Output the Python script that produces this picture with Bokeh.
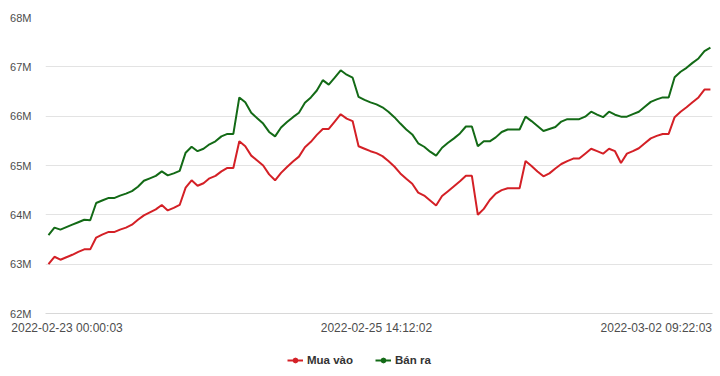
from bokeh.plotting import figure
from bokeh.layouts import column
from bokeh.models import (Range1d, FixedTicker, PrintfTickFormatter, Legend, LegendItem)
from bokeh.embed import file_html
from bokeh.resources import INLINE

# --- data (values in millions VND) ---
series_names = ["Mua vào", "Bán ra"]
buy = [63.00, 63.15, 63.09, 63.14, 63.19, 63.25, 63.30, 63.30, 63.54, 63.60,
       63.65, 63.65, 63.70, 63.74, 63.80, 63.90, 63.99, 64.05, 64.11, 64.20,
       64.09, 64.14, 64.20, 64.55, 64.70, 64.59, 64.64, 64.74, 64.79, 64.88,
       64.95, 64.95, 65.49, 65.39, 65.20, 65.10, 65.00, 64.82, 64.70, 64.85,
       64.97, 65.08, 65.18, 65.37, 65.48, 65.62, 65.74, 65.74, 65.89, 66.04,
       65.95, 65.90, 65.39, 65.34, 65.29, 65.25, 65.19, 65.09, 64.98, 64.84,
       64.73, 64.63, 64.45, 64.39, 64.29, 64.19, 64.38, 64.48, 64.58, 64.68,
       64.79, 64.79, 64.00, 64.12, 64.30, 64.43, 64.50, 64.54, 64.54, 64.54,
       65.09, 64.99, 64.88, 64.78, 64.84, 64.94, 65.03, 65.09, 65.14, 65.14,
       65.24, 65.34, 65.29, 65.24, 65.34, 65.29, 65.05, 65.24, 65.29, 65.35,
       65.45, 65.55, 65.60, 65.64, 65.64, 65.98, 66.09, 66.18, 66.28, 66.38,
       66.54, 66.54]
sell = [63.59, 63.74, 63.70, 63.75, 63.80, 63.85, 63.90, 63.89, 64.24, 64.29,
        64.34, 64.34, 64.39, 64.43, 64.48, 64.57, 64.69, 64.74, 64.79, 64.88,
        64.80, 64.84, 64.89, 65.26, 65.38, 65.29, 65.34, 65.43, 65.49, 65.59,
        65.64, 65.64, 66.38, 66.28, 66.07, 65.96, 65.85, 65.68, 65.59, 65.77,
        65.88, 65.98, 66.07, 66.27, 66.38, 66.52, 66.73, 66.64, 66.78, 66.93,
        66.84, 66.78, 66.39, 66.33, 66.28, 66.24, 66.18, 66.09, 65.98, 65.85,
        65.73, 65.63, 65.45, 65.38, 65.28, 65.20, 65.36, 65.46, 65.55, 65.65,
        65.79, 65.79, 65.39, 65.49, 65.49, 65.57, 65.68, 65.73, 65.73, 65.73,
        65.99, 65.90, 65.80, 65.70, 65.74, 65.78, 65.89, 65.94, 65.94, 65.94,
        65.99, 66.09, 66.03, 65.98, 66.09, 66.03, 65.99, 65.99, 66.04, 66.09,
        66.19, 66.29, 66.34, 66.38, 66.38, 66.79, 66.90, 66.98, 67.08, 67.17,
        67.32, 67.39]
x_idx = list(range(len(buy)))
x_tick_idx = [0, 55, 111]
x_tick_labels = ["2022-02-23 00:00:03", "2022-02-25 14:12:02", "2022-03-02 09:22:03"]
y_ticks = [62, 63, 64, 65, 66, 67, 68]

RED = "#d42026"
GREEN = "#136a16"
FONT = "Liberation Sans"
TXT = "#4d4d4d"

p = figure(width=720, height=340, output_backend="svg", toolbar_location=None,
           x_range=Range1d(-0.5, 111.35), y_range=Range1d(62, 68),
           min_border_left=45, min_border_right=8, min_border_top=17,
           min_border_bottom=27)
p.outline_line_color = None
p.background_fill_color = "white"
p.border_fill_color = "white"

p.line(x_idx, buy, line_color=RED, line_width=2)
p.line(x_idx, sell, line_color=GREEN, line_width=2)

# y axis
p.yaxis.ticker = FixedTicker(ticks=y_ticks)
p.yaxis.formatter = PrintfTickFormatter(format="%dM")
p.yaxis.axis_line_color = None
p.yaxis.major_tick_line_color = None
p.yaxis.minor_tick_line_color = None
p.yaxis.major_tick_out = 0
p.yaxis.major_label_standoff = 14
p.yaxis.major_label_text_font = FONT
p.yaxis.major_label_text_font_size = "11px"
p.yaxis.major_label_text_color = TXT

# x axis: edge labels are kept inside the chart width (as the original does),
# so the first/last tick labels are shifted inwards by about half a label width
half_label = 113 / 2 / 5.96  # label half-width in index units
n_last = len(buy) - 1
label_pos = [max(t, -0.5 - 35 / 5.96 + half_label) if t == 0 else
             (min(t, n_last + 0.4 - half_label) if t == n_last else t) for t in x_tick_idx]
p.xaxis.ticker = FixedTicker(ticks=label_pos)
p.xaxis.major_label_overrides = {pos: lab for pos, lab in zip(label_pos, x_tick_labels)}
p.xaxis.axis_line_color = "#d8d8d8"
p.xaxis.major_tick_line_color = None
p.xaxis.minor_tick_line_color = None
p.xaxis.major_tick_out = 0
p.xaxis.major_tick_in = 0
p.xaxis.major_label_standoff = 7
p.xaxis.major_label_text_font = FONT
p.xaxis.major_label_text_font_size = "12px"
p.xaxis.major_label_text_color = TXT
p.xgrid.grid_line_color = None
p.ygrid.ticker = FixedTicker(ticks=y_ticks)
p.ygrid.grid_line_color = "#e3e3e3"
p.ygrid.grid_line_width = 1

# legend strip below the chart
lg = figure(width=720, height=36, output_backend="svg", toolbar_location=None,
            x_range=Range1d(0, 1), y_range=Range1d(0, 1),
            min_border_left=0, min_border_right=0, min_border_top=0, min_border_bottom=0)
lg.outline_line_color = None
lg.axis.visible = False
lg.grid.visible = False
nan = float("nan")
items = []
for name, col in zip(series_names, [RED, GREEN]):
    rl = lg.line([nan], [nan], line_color=col, line_width=2)
    rm = lg.scatter([nan], [nan], marker="circle", size=7, fill_color=col, line_color=col)
    items.append(LegendItem(label=name, renderers=[rl, rm]))
legend = Legend(items=items, orientation="horizontal", location=(242, 10),
                label_text_font=FONT, label_text_font_size="11.5px",
                label_text_font_style="bold", label_text_color="#333333",
                glyph_width=16, glyph_height=12, label_standoff=4, spacing=22,
                border_line_color=None, background_fill_alpha=0,
                padding=0, margin=0)
lg.add_layout(legend, "center")

layout = column(p, lg, spacing=0)
open("out.html", "w").write(file_html(layout, INLINE))
